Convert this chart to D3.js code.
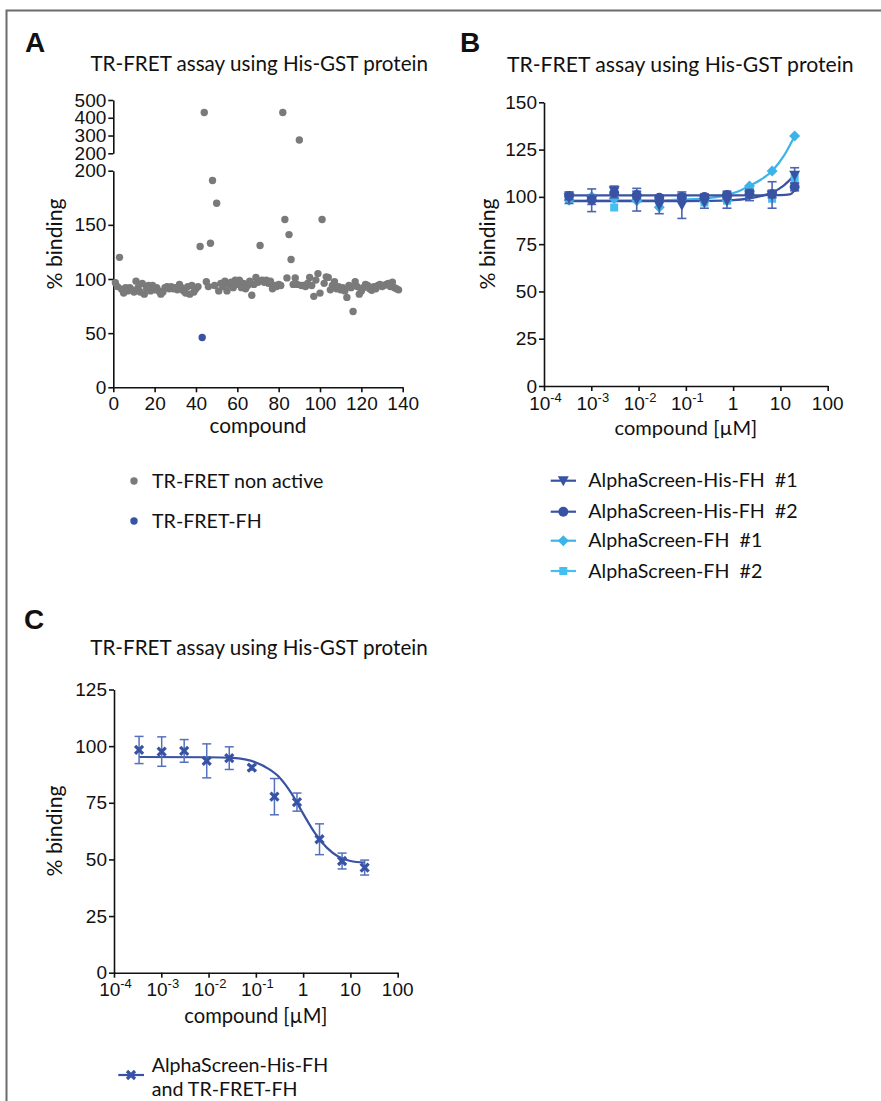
<!DOCTYPE html>
<html><head><meta charset="utf-8">
<script src="https://cdn.jsdelivr.net/npm/d3@7"></script>
<style>body{margin:0;background:#fff}svg{display:block}text{white-space:pre}</style>
</head><body>
<script>
// ---------------- DATA ----------------
// Panel A: % binding per compound (index = position + 1); null = no grey point
const compoundValues = [96.6,93,120,90.6,87,92,89,92,90,88,98,92,88,96,86,92,94,89,94,90,
92,89,86,88,92,93,91,93,91,92,90,95,92,89,87,93,86,94,88,91,
93,130,null,430,97.5,93,133,191,94,170,89,96,93,98,89,95,97,92,99,95,
99,92,96,91,94,98,85,95,101.5,97,131,99,97,99,96,98,91,94,93,95,
94,430,155,101,141,118,95,101,95,275,94,94,93,96,101.5,94,84,99,105,87,
155,96,102,101.5,90,94,97.5,91,93,90,92,89,83,94,92,70,97.5,93,86,89,
92,95,94,91,89.5,93,91,94,95,93,94,95,96,93,97,92,91,90];
const fhCompounds = [43];
const fhValues = [46];
const aXTicks = [0,20,40,60,80,100,120,140];
const aLowerTicks = [0,50,100,150,200];
const aUpperTicks = [200,300,400,500];

// Panels B and C: concentrations (µM)
const concentrations = [0.000339,0.00102,0.00305,0.00914,0.0274,0.0823,0.247,0.741,2.22,6.67,20];
const logTicks = [1e-4,1e-3,1e-2,1e-1,1,10,100];
const bYTicks = [0,25,50,75,100,125,150];
const cYTicks = [0,25,50,75,100,125];

const hisFH1 = [99.5,98.2,103.2,98.5,95.6,95.6,97,98,101,101,111.4];
const hisFH1Err = [3,6,2.5,6,4.5,7,3,4,3,7,4];
const hisFH2 = [100.5,98.5,102,101,99.5,100,100,101,101.5,101.5,105.2];
const hisFH2Err = [2,2.5,2.5,2,1.5,1.5,1.5,2,2,2,2];
const fh1 = [98.2,100,99,98,94.5,99,97.5,98,105.8,113.7,132.2];
const fh2 = [99,99.5,94.4,99,98,99.5,97,98,104,99,110];

// fitted curves (conc, value)
const curveHisFH1Conc = [0.000339,0.1,1,2.22,3.98,6.67,11.7,20];
const curveHisFH1Val  = [97.7,97.8,98.3,99.2,100.5,102.3,106,111.5];
const curveHisFH2Conc = [0.000339,1,10,15.8,18.5,20];
const curveHisFH2Val  = [100.8,100.8,100.9,101.3,102.5,105.2];
const curveFH1Conc = [0.000339,0.01,0.1,0.316,0.72,1.26,2.22,3.98,6.67,11.7,20];
const curveFH1Val  = [98.0,98.1,98.6,99.4,100.9,102.8,105.8,109.3,113.7,121.5,132.2];

const combined = [98.3,97.6,97.9,93.5,94.7,90.5,77.7,75.3,58.9,49.3,46.4];
const combinedErr = [6,6.5,5,7.5,5,1,8,4,6.8,3.5,3.3];
const curveCConc = [0.000339,0.01,0.0316,0.1,0.178,0.316,0.562,1,1.78,3.16,5.62,10,20];
const curveCVal  = [95.2,95.1,94.8,92.8,90.2,86.2,79.3,70.2,61.6,55.2,51.2,49.3,48.6];

const legendA = ["TR-FRET non active","TR-FRET-FH"];
const legendB = ["AlphaScreen-His-FH  #1","AlphaScreen-His-FH  #2","AlphaScreen-FH  #1","AlphaScreen-FH  #2"];
const legendC = ["AlphaScreen-His-FH","and TR-FRET-FH"];
const title = "TR-FRET assay using His-GST protein";

// ---------------- STYLE ----------------
const GREY = "#7a7a7a", DARK = "#3953a4", DARKERR = "#4d64b2", LIGHT1 = "#3db4e8", LIGHT2 = "#43bff0";
const NUM = "'Liberation Sans', Arial, sans-serif";
const TXT = "Lato, 'Open Sans', sans-serif";

const svg = d3.select("body").append("svg").attr("width",881).attr("height",1101);
svg.append("rect").attr("x",6.5).attr("y",10.5).attr("width",900).attr("height",1200)
  .attr("fill","none").attr("stroke","#6b6b6b").attr("stroke-width",2);

function fit(sel, w){
  const cur = sel.node().getComputedTextLength();
  sel.attr("font-size", parseFloat(sel.attr("font-size"))*w/cur);
  return sel;
}
function styleAxis(g){
  g.selectAll(".domain").attr("stroke","#111").attr("stroke-width",1.6);
  g.selectAll(".tick line").attr("stroke","#111").attr("stroke-width",1.6);
  g.selectAll(".tick text").attr("font-family",NUM).attr("font-size",19).attr("fill","#111");
}
function letter(t,x,y){
  svg.append("text").attr("x",x).attr("y",y).text(t).attr("font-family",NUM)
    .attr("font-weight","bold").attr("font-size",28).attr("fill","#111");
}
function titleText(cx,y,w){
  const t = svg.append("text").attr("x",cx).attr("y",y).attr("text-anchor","middle")
    .attr("font-family",TXT).attr("font-size",18).attr("fill","#111").text(title);
  fit(t,w);
}
function yLabel(cx,cy,w){
  const t = svg.append("text").attr("transform",`translate(${cx},${cy}) rotate(-90)`)
    .attr("text-anchor","middle").attr("font-family",TXT).attr("font-size",18).attr("fill","#111").text("% binding");
  fit(t,w);
}
function xLabel(txt,cx,y,w){
  const t = svg.append("text").attr("x",cx).attr("y",y).attr("text-anchor","middle")
    .attr("font-family",TXT).attr("font-size",18).attr("fill","#111").text(txt);
  fit(t,w);
}
// legend font size: fit "AlphaScreen-His-FH" to measured width
const probe = svg.append("text").attr("font-family",TXT).attr("font-size",18).text(legendC[0]);
fit(probe,176.7);
const LFS = parseFloat(probe.attr("font-size"));
probe.remove();
function legText(t,x,y){
  svg.append("text").attr("x",x).attr("y",y).attr("font-family",TXT).attr("font-size",LFS)
    .attr("xml:space","preserve").attr("fill","#111").text(t);
}

// ---------------- PANEL A ----------------
letter("A",25,52);
titleText(259.2,70.7,338);
const xA = d3.scaleLinear().domain([0,140]).range([113.3,402.7]);
const yALow = d3.scaleLinear().domain([0,200]).range([387.3,170.7]);
const yAUp = d3.scaleLinear().domain([200,500]).range([153.3,100]);
const gAx = svg.append("g").attr("transform","translate(0,387.3)")
  .call(d3.axisBottom(xA).tickValues(aXTicks).tickSize(5).tickSizeOuter(0).tickPadding(4));
styleAxis(gAx);
const gAyL = svg.append("g").attr("transform","translate(113.3,0)")
  .call(d3.axisLeft(yALow).tickValues(aLowerTicks).tickSize(5).tickSizeOuter(0).tickPadding(2));
styleAxis(gAyL);
const gAyU = svg.append("g").attr("transform","translate(113.3,0)")
  .call(d3.axisLeft(yAUp).tickValues(aUpperTicks).tickSize(5).tickSizeOuter(0).tickPadding(2));
styleAxis(gAyU);
yLabel(62,244,91);
xLabel("compound",258,433,97);
const ptsA = compoundValues.map((v,i)=>({c:i+1,v})).filter(d=>d.v!==null);
svg.append("g").selectAll("circle").data(ptsA).join("circle")
  .attr("cx",d=>xA(d.c)).attr("cy",d=>d.v>200?yAUp(d.v):yALow(d.v)).attr("r",3.7).attr("fill",GREY);
svg.append("g").selectAll("circle").data(fhCompounds.map((c,i)=>({c,v:fhValues[i]}))).join("circle")
  .attr("cx",d=>xA(d.c)).attr("cy",d=>yALow(d.v)).attr("r",3.7).attr("fill",DARK);
// legend A
svg.append("circle").attr("cx",134).attr("cy",481).attr("r",3.7).attr("fill",GREY);
svg.append("circle").attr("cx",134).attr("cy",521).attr("r",3.7).attr("fill",DARK);
legText(legendA[0],152,487.5);
legText(legendA[1],152,527.5);

// ---------------- log axis helper ----------------
function logXAxis(x,yPos){
  const g = svg.append("g").attr("transform",`translate(0,${yPos})`)
    .call(d3.axisBottom(x).tickValues(logTicks).tickFormat(()=> "").tickSize(5).tickSizeOuter(0));
  styleAxis(g);
  logTicks.forEach(t=>{
    const e = Math.round(Math.log10(t));
    const txt = g.append("text").attr("y",23.5).attr("font-family",NUM).attr("font-size",19).attr("fill","#111")
      .attr("text-anchor","middle");
    if(e<0){
      txt.append("tspan").text("10");
      txt.append("tspan").attr("font-size",13).attr("dy",-8).text(String(e));
    } else {
      txt.text(String(t));
    }
    txt.attr("x", x(t) + (e<0 ? 1.5 : 0));
  });
  return g;
}

// ---------------- PANEL B ----------------
letter("B",460,52);
titleText(680.3,71.7,347);
const xB = d3.scaleLog().domain([1e-4,100]).range([544,827.7]);
const yB = d3.scaleLinear().domain([0,150]).range([386,102.3]);
logXAxis(xB,386);
const gBy = svg.append("g").attr("transform","translate(544,0)")
  .call(d3.axisLeft(yB).tickValues(bYTicks).tickSize(5).tickSizeOuter(0).tickPadding(2));
styleAxis(gBy);
yLabel(495,244,91);
xLabel("compound [\u00B5M]",685.9,435,142.7);

const lineB = d3.line().x(d=>xB(d[0])).y(d=>yB(d[1])).curve(d3.curveMonotoneX);
const lineC = d3.line().x(d=>xC(d[0])).y(d=>yC(d[1])).curve(d3.curveMonotoneX);
function zip(a,b){return a.map((v,i)=>[v,b[i]]);}

function errBars(x,y,vals,errs,color,width){
  const g = svg.append("g").attr("stroke",color).attr("stroke-width",width).attr("fill","none");
  vals.forEach((v,i)=>{
    const cx = x(concentrations[i]);
    const y1 = y(v+errs[i]), y2 = y(v-errs[i]);
    g.append("line").attr("x1",cx).attr("x2",cx).attr("y1",y1).attr("y2",y2);
    g.append("line").attr("x1",cx-4.5).attr("x2",cx+4.5).attr("y1",y1).attr("y2",y1);
    g.append("line").attr("x1",cx-4.5).attr("x2",cx+4.5).attr("y1",y2).attr("y2",y2);
  });
}
const triPath = "M-5.5,-4.5L5.5,-4.5L0,5.5Z";
const diaPath = "M0,-5.5L5.5,0L0,5.5L-5.5,0Z";
const sqPath = "M-4,-4L4,-4L4,4L-4,4Z";
const cirPath = d3.symbol(d3.symbolCircle,78)();
function markers(x,y,vals,path,color){
  svg.append("g").selectAll("path").data(vals).join("path")
    .attr("d",path).attr("fill",color)
    .attr("transform",(d,i)=>`translate(${x(concentrations[i])},${y(d)})`);
}
// curves
svg.append("path").attr("d",lineB(zip(curveFH1Conc,curveFH1Val))).attr("fill","none").attr("stroke",LIGHT1).attr("stroke-width",2.2);
svg.append("path").attr("d",lineB(zip(curveHisFH1Conc,curveHisFH1Val))).attr("fill","none").attr("stroke",DARK).attr("stroke-width",2.2);
svg.append("path").attr("d",lineB(zip(curveHisFH2Conc,curveHisFH2Val))).attr("fill","none").attr("stroke",DARK).attr("stroke-width",2.2);
// points
markers(xB,yB,fh2,sqPath,LIGHT2);
markers(xB,yB,fh1,diaPath,LIGHT1);
errBars(xB,yB,hisFH2,hisFH2Err,DARKERR,1.6);
errBars(xB,yB,hisFH1,hisFH1Err,DARKERR,1.6);
markers(xB,yB,hisFH2,cirPath,DARK);
markers(xB,yB,hisFH1,triPath,DARK);
// legend B
const legBY = [480.7,511.7,540.7,571];
const legBCol = [DARK,DARK,LIGHT1,LIGHT2];
const legBPath = [triPath,cirPath,diaPath,sqPath];
legendB.forEach((t,i)=>{
  svg.append("line").attr("x1",550.7).attr("x2",576).attr("y1",legBY[i]).attr("y2",legBY[i])
    .attr("stroke",legBCol[i]).attr("stroke-width",2.2);
  svg.append("path").attr("d",legBPath[i]).attr("fill",legBCol[i]).attr("transform",`translate(563.3,${legBY[i]})`);
  legText(t,588.3,legBY[i]+6.5);
});

// ---------------- PANEL C ----------------
letter("C",24,629.3);
titleText(259,655,338);
const xC = d3.scaleLog().domain([1e-4,100]).range([114,397.7]);
const yC = d3.scaleLinear().domain([0,125]).range([972.7,689.5]);
logXAxis(xC,972.7);
const gCy = svg.append("g").attr("transform","translate(114,0)")
  .call(d3.axisLeft(yC).tickValues(cYTicks).tickSize(5).tickSizeOuter(0).tickPadding(2));
styleAxis(gCy);
yLabel(62,831,91);
xLabel("compound [\u00B5M]",255.9,1022.7,143.3);
svg.append("path").attr("d",lineC(zip(curveCConc,curveCVal))).attr("fill","none").attr("stroke",DARK).attr("stroke-width",2.2);
errBars(xC,yC,combined,combinedErr,"#5570bd",1.5);
const crossPath = "M-4,-4L4,4M-4,4L4,-4";
svg.append("g").selectAll("path").data(combined).join("path")
  .attr("d",crossPath).attr("fill","none").attr("stroke",DARK).attr("stroke-width",3.2)
  .attr("transform",(d,i)=>`translate(${xC(concentrations[i])},${yC(d)})`);
// legend C
svg.append("line").attr("x1",118.3).attr("x2",144).attr("y1",1075).attr("y2",1075).attr("stroke",DARK).attr("stroke-width",2.2);
svg.append("path").attr("d",crossPath).attr("fill","none").attr("stroke",DARK).attr("stroke-width",3.2).attr("transform","translate(131,1075)");
legText(legendC[0],151.7,1071.7);
legText(legendC[1],151.7,1096);
</script>
</body></html>
